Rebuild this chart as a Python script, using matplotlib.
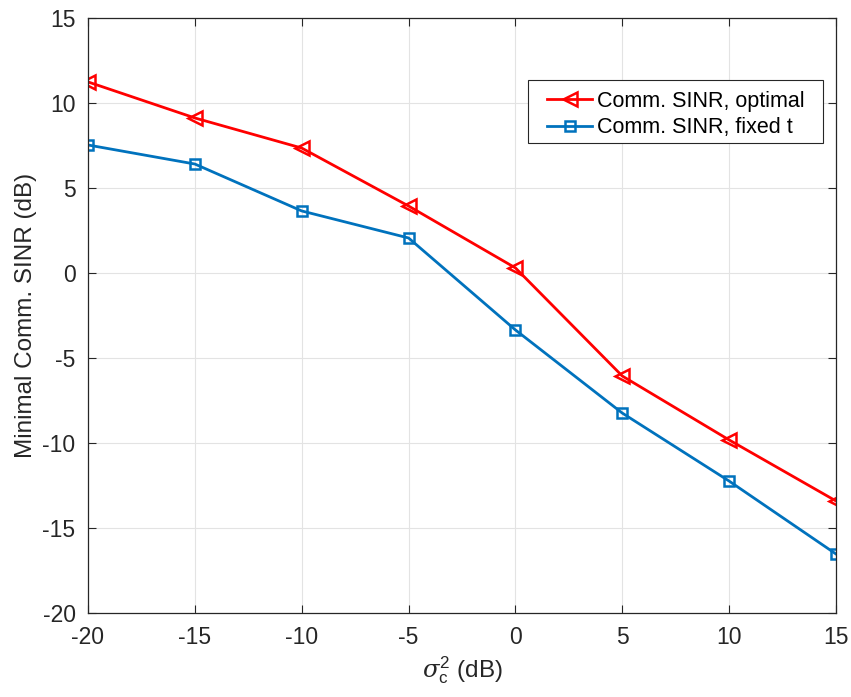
import matplotlib
matplotlib.use("Agg")
import matplotlib.pyplot as plt
from matplotlib.patches import Rectangle

plt.rcParams['font.family'] = ['Liberation Sans', 'DejaVu Sans']
plt.rcParams['mathtext.fontset'] = 'custom'
plt.rcParams['mathtext.rm'] = 'Liberation Sans'
plt.rcParams['mathtext.it'] = 'DejaVu Serif:italic'

x = [-20, -15, -10, -5, 0, 5, 10, 15]
sinr_optimal = [11.24, 9.12, 7.35, 3.94, 0.3, -6.06, -9.82, -13.41]
sinr_fixed = [7.53, 6.41, 3.65, 2.06, -3.35, -8.24, -12.24, -16.53]
xticks = [-20, -15, -10, -5, 0, 5, 10, 15]
yticks = [-20, -15, -10, -5, 0, 5, 10, 15]

W, H = 851, 697
fig = plt.figure(figsize=(W/100, H/100), dpi=100)
ax = fig.add_axes([88/W, 1-613/H, (836-88)/W, (613-18)/H])

ax.plot(x, sinr_optimal, color='#ff0000', lw=2, marker='<', markersize=10,
        markerfacecolor='none', markeredgewidth=1.8, label='Comm. SINR, optimal')
ax.plot(x, sinr_fixed, color='#0072bd', lw=2, marker='s', markersize=6.5,
        markerfacecolor='none', markeredgewidth=1.8, label='Comm. SINR, fixed t')

ax.set_xlim(-20, 15)
ax.set_ylim(-20, 15)
ax.set_xticks(xticks)
ax.set_yticks(yticks)
ax.set_xticklabels([str(t) for t in xticks])
ax.set_yticklabels([str(t) for t in yticks])
ax.grid(True, color='#e3e3e3', lw=0.8)
ax.set_axisbelow(True)
ax.tick_params(direction='in', length=6, labelsize=16.5, colors='#262626', pad=9,
               top=True, right=True)
for s in ax.spines.values():
    s.set_color('#262626')
    s.set_linewidth(0.9)

ax.set_xlabel(r'$\mathit{\sigma}_{\mathrm{c}}^{2}$ (dB)', fontsize=17.5, color='#262626', labelpad=4)
ax.set_ylabel('Minimal Comm. SINR (dB)', fontsize=17.5, color='#262626', labelpad=4)

# legend box frame
frame = Rectangle((528/W, 1-143/H), (823-528)/W, (143-80)/H, transform=fig.transFigure,
                  facecolor='white', edgecolor='#262626', lw=0.8, zorder=4.9)
ax.add_patch(frame)
frame.set_clip_on(False)

leg = ax.legend(loc='upper left', bbox_to_anchor=(547/W, 1-91/H),
                bbox_transform=fig.transFigure,
                fontsize=15.5, frameon=False,
                handlelength=2.1, borderpad=0, labelspacing=0.25, handletextpad=0.2,
                borderaxespad=0)

fig.savefig('out.png', dpi=100)
